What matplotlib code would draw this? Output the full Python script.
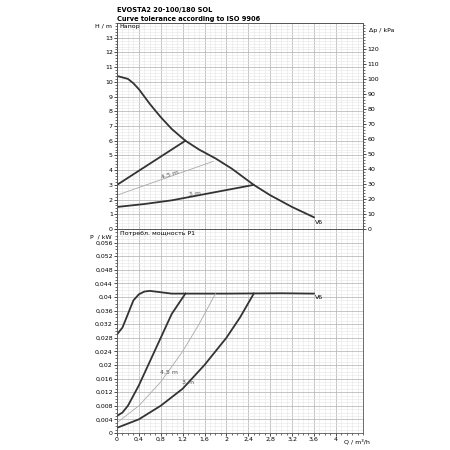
import matplotlib
matplotlib.use("Agg")
import matplotlib.pyplot as plt
import numpy as np

# data
q_v6 = [0, 0.2, 0.3, 0.4, 0.6, 0.8, 1.0, 1.25, 1.5, 1.8, 2.1, 2.5, 2.8, 3.2, 3.6]
h_v6 = [10.4, 10.2, 9.9, 9.5, 8.5, 7.6, 6.8, 6.0, 5.4, 4.8, 4.1, 3.0, 2.3, 1.5, 0.8]
q_hi = [0, 1.25]; h_hi = [3.0, 6.0]
q_45 = [0, 1.76]; h_45 = [2.3, 4.6]
q_3 = [0, 0.5, 1.0, 1.5, 2.0, 2.5]; h_3 = [1.5, 1.7, 1.95, 2.3, 2.65, 3.0]

pq_v6 = [0, 0.1, 0.2, 0.3, 0.4, 0.5, 0.6, 0.8, 1.0, 1.25, 2.0, 3.0, 3.6]
p_v6 = [0.029, 0.031, 0.035, 0.039, 0.0408, 0.0416, 0.0418, 0.0414, 0.041, 0.041, 0.041, 0.0411, 0.041]
pq_hi = [0, 0.1, 0.2, 0.4, 0.6, 0.8, 1.0, 1.25]
p_hi = [0.005, 0.006, 0.008, 0.014, 0.021, 0.028, 0.035, 0.041]
pq_45 = [0, 0.4, 0.8, 1.2, 1.5, 1.8]
p_45 = [0.003, 0.008, 0.015, 0.024, 0.032, 0.041]
pq_3 = [0, 0.4, 0.8, 1.2, 1.6, 2.0, 2.25, 2.5]
p_3 = [0.0015, 0.004, 0.008, 0.013, 0.02, 0.028, 0.034, 0.041]

x_ticks = [0, 0.4, 0.8, 1.2, 1.6, 2, 2.4, 2.8, 3.2, 3.6, 4]
h_ticks = list(range(0, 14))
kpa_ticks = list(range(0, 130, 10))
p_ticks = [round(0.004 * i, 3) for i in range(15)]

def fmt(v):
    return ("%g" % v).replace(".", ",")

fs = 4.5
fig = plt.figure(figsize=(4.5, 4.5), dpi=100)
ax1 = fig.add_axes([0.26, 0.491, 0.547, 0.458])
ax2 = fig.add_axes([0.26, 0.038, 0.547, 0.453])

for ax in (ax1, ax2):
    ax.set_xlim(0, 4.5)
    ax.set_xticks(x_ticks)
    ax.set_xticks(np.arange(0, 4.51, 0.1), minor=True)
    ax.grid(which="major", color="#bbbbbb", lw=0.6)
    ax.grid(which="minor", color="#e6e6e6", lw=0.4)
    ax.tick_params(labelsize=fs, length=2, width=0.5, pad=1)
    ax.tick_params(which="minor", length=1.2, width=0.4)
    for s in ax.spines.values():
        s.set_linewidth(0.6); s.set_color("#555555")

ax1.set_ylim(0, 14)
ax1.set_yticks(h_ticks)
ax1.set_yticklabels([str(t) for t in h_ticks])
ax1.set_yticks(np.arange(0, 14.01, 0.2), minor=True)
ax1.tick_params(labelbottom=False)
ax1r = ax1.twinx()
ax1r.set_ylim(0, 14 * 9.81)
ax1r.set_yticks(kpa_ticks)
ax1r.set_yticks(np.arange(0, 137, 2), minor=True)
ax1r.tick_params(labelsize=fs, length=2, width=0.5, pad=1)
ax1r.tick_params(which="minor", length=1.2, width=0.4)
for s in ax1r.spines.values():
    s.set_linewidth(0.6); s.set_color("#555555")

c = "#333333"
ax1.plot(q_v6, h_v6, color=c, lw=1.3)
ax1.plot(q_hi, h_hi, color=c, lw=1.3)
ax1.plot(q_45, h_45, color="#aaaaaa", lw=0.6)
ax1.plot(q_3, h_3, color=c, lw=1.3)
ax1.text(3.62, 0.6, "V6", fontsize=fs, va="top")
ax1.text(0.8, 3.4, "4,5 m", fontsize=fs, rotation=18, color="#555555")
ax1.text(1.3, 2.25, "3 m", fontsize=fs, rotation=6, color="#555555")
ax1.text(0.05, 13.95, "Напор", fontsize=fs, va="top")
ax1.text(-0.1, 13.8, "H / m", fontsize=fs, ha="right", va="center")
ax1r.text(4.6, 13.5 * 9.81, "Δp / kPa", fontsize=fs, va="center")

ax2.set_ylim(0, 0.06)
ax2.set_yticks(p_ticks)
ax2.set_yticklabels([fmt(t) for t in p_ticks])
ax2.set_yticks(np.arange(0, 0.0601, 0.001), minor=True)
ax2.set_xticklabels([fmt(t) for t in x_ticks])
ax2.plot(pq_v6, p_v6, color=c, lw=1.3)
ax2.plot(pq_hi, p_hi, color=c, lw=1.3)
ax2.plot(pq_45, p_45, color="#aaaaaa", lw=0.6)
ax2.plot(pq_3, p_3, color=c, lw=1.3)
ax2.text(3.62, 0.0405, "V6", fontsize=fs, va="top")
ax2.text(0.78, 0.0175, "4,5 m", fontsize=fs, color="#555555")
ax2.text(1.18, 0.0145, "3 m", fontsize=fs, color="#555555")
ax2.text(0.05, 0.0595, "Потребл. мощность P1", fontsize=fs, va="top")
ax2.text(-0.1, 0.0578, "P  / kW", fontsize=fs, ha="right", va="center")
ax2.text(4.15, -0.0018, "Q / m³/h", fontsize=fs, va="top")

fig.text(0.26, 0.985, "EVOSTA2 20-100/180 SOL", fontsize=4.8, weight="bold", va="top")
fig.text(0.26, 0.965, "Curve tolerance according to ISO 9906", fontsize=4.8, weight="bold", va="top")
fig.savefig("out.png", dpi=100)
